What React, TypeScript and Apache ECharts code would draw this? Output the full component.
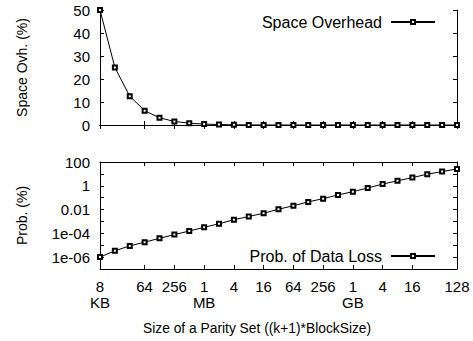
import React, { useEffect, useRef } from "react";
import * as echarts from "echarts";

const sizes = [
  "8KB", "16KB", "32KB", "64KB", "128KB", "256KB", "512KB",
  "1MB", "2MB", "4MB", "8MB", "16MB", "32MB", "64MB", "128MB", "256MB", "512MB",
  "1GB", "2GB", "4GB", "8GB", "16GB", "32GB", "64GB", "128GB",
];
const tickIndex = [0, 3, 5, 7, 9, 11, 13, 15, 17, 19, 21, 24];
const tickText = ["8\nKB", "64", "256", "1\nMB", "4", "16", "64", "256", "1\nGB", "4", "16", "128"];

const spaceOverhead = [
  50, 25, 12.5, 6.25, 3.13, 1.56, 0.78, 0.39, 0.2, 0.1, 0.05, 0.024, 0.012,
  0.006, 0.003, 0.0015, 0.0008, 0.0004, 0.0002, 0.0001, 0.00005, 0.000024,
  0.000012, 0.000006, 0.000003,
];
const probDataLoss = [
  1e-6, 3.4e-6, 8.8e-6, 1.8e-5, 3.8e-5, 7.8e-5, 1.56e-4, 3.2e-4, 6.4e-4,
  1.4e-3, 2.6e-3, 4.9e-3, 0.0107, 0.021, 0.044, 0.083, 0.17, 0.32, 0.65,
  1.4, 2.6, 4.9, 9.4, 15.6, 26,
];
const probTickExps = [-6, -4, -2, 0, 2];
const probTickLabels = ["1e-06", "1e-04", "0.01", "1", "100"];

const FONT = "'Liberation Sans', Arial, sans-serif";
const FS = 15;

export default function App() {
  const ref = useRef<HTMLDivElement>(null);
  useEffect(() => {
    if (!ref.current) return;
    const chart = echarts.init(ref.current, null, { renderer: "svg" });
    const showIdx = (i: number) => tickIndex.indexOf(i) >= 0;
    const line = { show: true, lineStyle: { color: "#000", width: 1 } };
    const tick = { show: true, inside: true, length: 4, interval: showIdx, lineStyle: { color: "#000" } };
    const ytick = { show: true, inside: true, length: 4, lineStyle: { color: "#000" } };
    const lbl = { color: "#000", fontSize: FS, fontFamily: FONT };
    const xBase = (grid: number, pos: string, labels: boolean) => ({
      type: "category",
      gridIndex: grid,
      position: pos,
      data: sizes,
      boundaryGap: false,
      axisLine: line,
      axisTick: tick,
      splitLine: { show: false },
      axisLabel: labels
        ? {
            ...lbl,
            interval: showIdx,
            margin: 9,
            lineHeight: 16,
            formatter: (_v: string, i: number) => {
              const k = tickIndex.indexOf(i);
              return k >= 0 ? tickText[k] : "";
            },
          }
        : { show: false },
    });
    const logLabel = (v: number) => {
      const e = Math.round(Math.log10(v));
      const k = probTickExps.indexOf(e);
      return k >= 0 ? probTickLabels[k] : "";
    };
    const legendBase = {
      right: 37,
      padding: 0,
      align: "right",
      itemWidth: 44,
      itemHeight: 5,
      textStyle: { ...lbl, fontSize: 16, padding: [0, 4, 0, 0] },
    };
    const option: any = {
      animation: false,
      backgroundColor: "#fff",
      textStyle: { fontFamily: FONT },
      grid: [
        { left: 100, right: 16, top: 10, height: 115 },
        { left: 100, right: 16, top: 162, height: 107 },
      ],
      legend: [
        { ...legendBase, data: ["Space Overhead"], top: 14 },
        { ...legendBase, data: ["Prob. of Data Loss"], top: 248 },
      ],
      xAxis: [
        xBase(0, "bottom", false),
        xBase(0, "top", false),
        xBase(1, "bottom", true),
        xBase(1, "top", false),
      ],
      yAxis: [
        {
          type: "value",
          gridIndex: 0,
          min: 0,
          max: 50,
          interval: 10,
          axisLine: line,
          axisTick: ytick,
          splitLine: { show: false },
          axisLabel: { ...lbl, margin: 10 },
          name: "Space Ovh. (%)",
          nameLocation: "middle",
          nameGap: 71,
          nameTextStyle: { color: "#000", fontSize: 14, fontFamily: FONT },
        },
        {
          type: "value",
          gridIndex: 0,
          position: "right",
          min: 0,
          max: 50,
          interval: 10,
          axisLine: line,
          axisTick: ytick,
          splitLine: { show: false },
          axisLabel: { show: false },
        },
        {
          type: "log",
          gridIndex: 1,
          logBase: 10,
          min: 1e-7,
          max: 100,
          splitNumber: 9,
          axisLine: line,
          axisTick: ytick,
          splitLine: { show: false },
          minorTick: { show: false },
          axisLabel: { ...lbl, margin: 10, formatter: logLabel },
          name: "Prob. (%)",
          nameLocation: "middle",
          nameGap: 71,
          nameTextStyle: { color: "#000", fontSize: 14, fontFamily: FONT },
        },
        {
          type: "log",
          gridIndex: 1,
          position: "right",
          logBase: 10,
          min: 1e-7,
          max: 100,
          splitNumber: 9,
          axisLine: line,
          axisTick: ytick,
          splitLine: { show: false },
          axisLabel: { show: false },
        },
      ],
      series: [
        {
          name: "Space Overhead",
          type: "line",
          xAxisIndex: 0,
          yAxisIndex: 0,
          data: spaceOverhead,
          symbol: "emptyRect",
          symbolSize: 4,
          lineStyle: { color: "#000", width: 1 },
          itemStyle: { color: "#000", borderColor: "#000", borderWidth: 1 },
        },
        {
          name: "Prob. of Data Loss",
          type: "line",
          xAxisIndex: 2,
          yAxisIndex: 2,
          data: probDataLoss,
          symbol: "emptyRect",
          symbolSize: 4,
          lineStyle: { color: "#000", width: 1 },
          itemStyle: { color: "#000", borderColor: "#000", borderWidth: 1 },
        },
      ],
      graphic: [
        {
          type: "text",
          left: 143,
          top: 321,
          style: {
            text: "Size of a Parity Set ((k+1)*BlockSize)",
            fill: "#000",
            fontSize: 13.8,
            fontFamily: FONT,
          },
        },
      ],
    };
    chart.setOption(option);
    return () => chart.dispose();
  }, []);
  return <div ref={ref} style={{ width: 473, height: 341, position: "absolute", left: 0, top: 0 }} />;
}
